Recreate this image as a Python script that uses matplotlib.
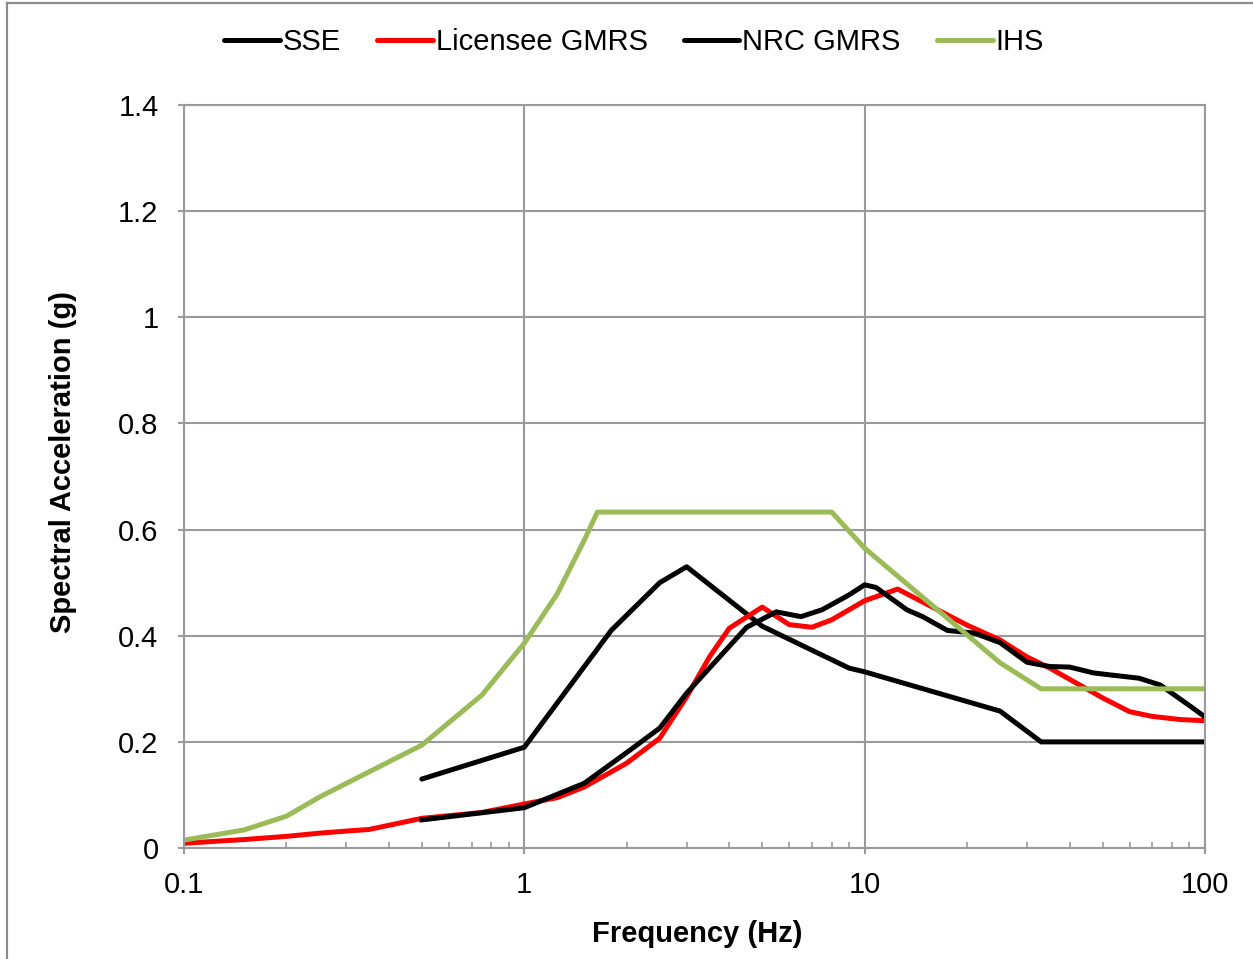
import numpy as np
import matplotlib
matplotlib.use("Agg")
import matplotlib.pyplot as plt
from matplotlib.lines import Line2D
from matplotlib.ticker import LogLocator, NullFormatter, FixedLocator

plt.rcParams["font.family"] = ["Liberation Sans", "DejaVu Sans"]

# ---- spectra (frequency in Hz, acceleration in g) ----
sse_f = [0.5, 1.0, 1.8, 2.5, 3.0, 5.0, 9.0, 10.0, 25.0, 33.0, 100.0]
sse_a = [0.13, 0.19, 0.41, 0.50, 0.53, 0.418, 0.339, 0.332, 0.258, 0.20, 0.20]

lic_f = [0.1, 0.15, 0.2, 0.25, 0.3, 0.35, 0.5, 0.75, 1.0, 1.25, 1.5, 2.0,
         2.5, 3.0, 3.5, 4.0, 5.0, 6.0, 7.0, 8.0, 10.0, 12.5, 20.0, 25.0,
         30.0, 35.0, 40.0, 50.0, 60.0, 70.0, 85.0, 100.0]
lic_a = [0.009, 0.016, 0.022, 0.028, 0.032, 0.035, 0.056, 0.067, 0.083,
         0.095, 0.115, 0.160, 0.207, 0.285, 0.360, 0.414, 0.454, 0.421,
         0.416, 0.430, 0.466, 0.488, 0.420, 0.392, 0.360, 0.339, 0.318,
         0.283, 0.257, 0.248, 0.242, 0.240]

nrc_f = [0.5, 1.0, 1.5, 2.0, 2.5, 3.0, 4.5, 5.5, 6.5, 7.5, 9.0, 10.0, 10.8,
         13.3, 14.8, 17.5, 21.0, 25.0, 30.0, 35.0, 40.0, 47.0, 53.0, 64.0,
         74.0, 92.0, 100.0]
nrc_a = [0.053, 0.076, 0.122, 0.180, 0.226, 0.292, 0.416, 0.445, 0.436,
         0.449, 0.477, 0.496, 0.491, 0.449, 0.436, 0.410, 0.405, 0.387,
         0.350, 0.342, 0.341, 0.330, 0.326, 0.320, 0.307, 0.264, 0.247]

ihs_f = [0.1, 0.15, 0.2, 0.25, 0.5, 0.75, 1.0, 1.25, 1.5, 1.64, 8.0, 10.0,
         25.0, 33.0, 100.0]
ihs_a = [0.015, 0.034, 0.060, 0.096, 0.194, 0.288, 0.386, 0.479, 0.580,
         0.633, 0.633, 0.565, 0.349, 0.30, 0.30]

GRID = "#9a9a9a"
FS = 21

fig = plt.figure(figsize=(12.53, 9.59), dpi=100)
ax = fig.add_axes([0.1468, 0.1157, 0.8149, 0.7748])

ax.plot(sse_f, sse_a, color="black", lw=3.6, label="SSE",
        solid_joinstyle="round", solid_capstyle="round")
ax.plot(lic_f, lic_a, color="#ff0000", lw=3.6, label="Licensee GMRS",
        solid_joinstyle="round")
ax.plot(nrc_f, nrc_a, color="black", lw=3.6, label="NRC GMRS",
        solid_joinstyle="round")
ax.plot(ihs_f, ihs_a, color="#9bbb59", lw=3.6, label="IHS",
        solid_joinstyle="round")

ax.set_xscale("log")
ax.set_xlim(0.1, 100)
ax.set_ylim(0, 1.4)
ax.xaxis.set_major_locator(FixedLocator([0.1, 1, 10, 100]))
ax.set_xticklabels(["0.1", "1", "10", "100"])
ax.xaxis.set_minor_locator(LogLocator(base=10, subs=np.arange(2, 10)))
ax.xaxis.set_minor_formatter(NullFormatter())
ax.set_yticks(np.arange(0, 1.41, 0.2))
ax.set_yticklabels(["0", "0.2", "0.4", "0.6", "0.8", "1", "1.2", "1.4"])

ax.grid(True, which="major", color=GRID, lw=1.5)
ax.set_axisbelow(True)
for s in ax.spines.values():
    s.set_color(GRID)
    s.set_linewidth(1.5)

ax.tick_params(axis="y", which="major", direction="out", length=4.3,
               width=1.5, color=GRID, pad=14, labelsize=FS)
ax.tick_params(axis="x", which="major", direction="out", length=4.3,
               width=1.5, color=GRID, pad=12.5, labelsize=FS)
ax.tick_params(axis="x", which="minor", direction="in", length=4.3,
               width=1.2, color=GRID)

ax.set_xlabel("Frequency (Hz)", fontsize=FS, fontweight="bold")
ax.set_ylabel("Spectral Acceleration (g)", fontsize=FS, fontweight="bold")
ax.xaxis.set_label_coords(0.503, -0.097)
ax.yaxis.set_label_coords(-0.105, 0.52)

handles = [Line2D([], [], color=c, lw=3.6, solid_capstyle="round")
           for c in ["black", "#ff0000", "black", "#9bbb59"]]
fig.legend(handles, ["SSE", "Licensee GMRS", "NRC GMRS", "IHS"],
           loc="center", bbox_to_anchor=(0.506, 0.956), ncol=4,
           frameon=False, fontsize=FS, handlelength=1.9, handletextpad=0.1,
           columnspacing=1.25)

# chart area outline
fig.add_artist(Line2D([7 / 1253, 7 / 1253], [0, 1 - 3 / 959],
                      color="#8c8c8c", lw=1.6))
fig.add_artist(Line2D([7 / 1253, 1], [1 - 3 / 959, 1 - 3 / 959],
                      color="#8c8c8c", lw=1.6))

fig.savefig("out.png", dpi=100)
